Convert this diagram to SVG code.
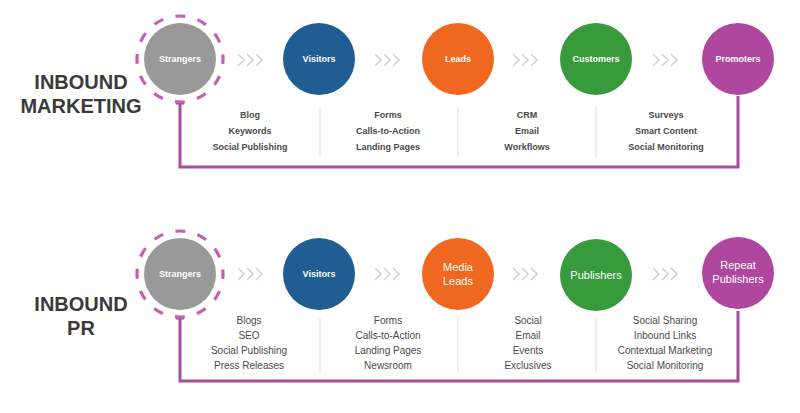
<svg xmlns="http://www.w3.org/2000/svg" width="800" height="413" viewBox="0 0 800 413">
<style>
.title{font-family:"Liberation Sans",Arial,sans-serif;font-weight:bold;font-size:20px;fill:#3a3a3a;text-anchor:middle}
.nl{font-family:"Liberation Sans",Arial,sans-serif;font-weight:bold;font-size:9px;fill:#fff;text-anchor:middle}
.nl2{font-family:"Liberation Sans",Arial,sans-serif;font-size:11px;fill:#fff;text-anchor:middle}
.t1{font-family:"Liberation Sans",Arial,sans-serif;font-weight:bold;font-size:9px;fill:#4a4a4a;text-anchor:middle}
.t2{font-family:"Liberation Sans",Arial,sans-serif;font-size:10px;fill:#4a4a4a;text-anchor:middle}
.ring{fill:none;stroke:#c45fb4;stroke-width:3.2;stroke-dasharray:10 12.515;stroke-dashoffset:5}
.conn{fill:none;stroke:#a44f9c;stroke-width:3}
.div{stroke:#dcdcdc;stroke-width:1}
.chev{fill:none;stroke:#d2d2d2;stroke-width:1.6}
</style>
<defs>
<g id="chev"><path class="chev" d="M0,-6 L6,0 L0,6 M9,-6 L15,0 L9,6 M18,-6 L24,0 L18,6"/></g>
</defs>
<text class="title" x="81" y="89">INBOUND</text>
<text class="title" x="81" y="113">MARKETING</text>
<text class="title" x="81" y="311">INBOUND</text>
<text class="title" x="81" y="335">PR</text>
<g id="connectors">
<path class="conn" d="M180,103 V167 H738 V96"/>
<path class="conn" d="M176,103 H184"/>
<path class="conn" d="M180,318 V381 H738 V311"/>
<path class="conn" d="M176,318 H184"/>
<use href="#chev" x="238" y="60"/>
<use href="#chev" x="375" y="60"/>
<use href="#chev" x="513" y="60"/>
<use href="#chev" x="653" y="60"/>
<use href="#chev" x="238" y="274"/>
<use href="#chev" x="375" y="274"/>
<use href="#chev" x="513" y="274"/>
<use href="#chev" x="653" y="274"/>
<line class="div" x1="320" y1="107" x2="320" y2="157"/>
<line class="div" x1="458" y1="107" x2="458" y2="157"/>
<line class="div" x1="596" y1="107" x2="596" y2="157"/>
<line class="div" x1="320" y1="318" x2="320" y2="372"/>
<line class="div" x1="458" y1="318" x2="458" y2="372"/>
<line class="div" x1="596" y1="318" x2="596" y2="372"/>
</g>
<g id="strangers1"><circle cx="180" cy="59" r="36" fill="#999999"/><circle class="ring" cx="180" cy="59" r="43"/><text class="nl" x="180" y="62">Strangers</text></g>
<g id="visitors1"><circle cx="319" cy="59" r="36" fill="#1f5d92"/><text class="nl" x="319" y="62">Visitors</text></g>
<g id="leads1"><circle cx="458" cy="59" r="36" fill="#f0681f"/><text class="nl" x="458" y="62">Leads</text></g>
<g id="customers1"><circle cx="596" cy="59" r="36" fill="#379a3b"/><text class="nl" x="596" y="62">Customers</text></g>
<g id="promoters1"><circle cx="738" cy="59" r="36" fill="#b0479f"/><text class="nl" x="738" y="62">Promoters</text></g>
<g id="strangers2"><circle cx="180" cy="274" r="36" fill="#999999"/><circle class="ring" cx="180" cy="274" r="43"/><text class="nl" x="180" y="277">Strangers</text></g>
<g id="visitors2"><circle cx="319" cy="274" r="36" fill="#1f5d92"/><text class="nl" x="319" y="277">Visitors</text></g>
<g id="medialeads2"><circle cx="458" cy="274" r="36" fill="#f0681f"/><text class="nl2" x="458" y="271">Media</text><text class="nl2" x="458" y="285">Leads</text></g>
<g id="publishers2"><circle cx="596" cy="275" r="36" fill="#379a3b"/><text class="nl2" x="596" y="279">Publishers</text></g>
<g id="repeat2"><circle cx="738" cy="273" r="36" fill="#b0479f"/><text class="nl2" x="738" y="269">Repeat</text><text class="nl2" x="738" y="283">Publishers</text></g>
<g id="tactics1">
<text class="t1" x="250" y="118">Blog</text><text class="t1" x="250" y="134">Keywords</text><text class="t1" x="250" y="150">Social Publishing</text>
<text class="t1" x="388" y="118">Forms</text><text class="t1" x="388" y="134">Calls-to-Action</text><text class="t1" x="388" y="150">Landing Pages</text>
<text class="t1" x="527" y="118">CRM</text><text class="t1" x="527" y="134">Email</text><text class="t1" x="527" y="150">Workflows</text>
<text class="t1" x="666" y="118">Surveys</text><text class="t1" x="666" y="134">Smart Content</text><text class="t1" x="666" y="150">Social Monitoring</text>
</g>
<g id="tactics2">
<text class="t2" x="249" y="324">Blogs</text><text class="t2" x="249" y="339">SEO</text><text class="t2" x="249" y="354">Social Publishing</text><text class="t2" x="249" y="369">Press Releases</text>
<text class="t2" x="388" y="324">Forms</text><text class="t2" x="388" y="339">Calls-to-Action</text><text class="t2" x="388" y="354">Landing Pages</text><text class="t2" x="388" y="369">Newsroom</text>
<text class="t2" x="528" y="324">Social</text><text class="t2" x="528" y="339">Email</text><text class="t2" x="528" y="354">Events</text><text class="t2" x="528" y="369">Exclusives</text>
<text class="t2" x="665" y="324">Social Sharing</text><text class="t2" x="665" y="339">Inbound Links</text><text class="t2" x="665" y="354">Contextual Marketing</text><text class="t2" x="665" y="369">Social Monitoring</text>
</g>
</svg>
